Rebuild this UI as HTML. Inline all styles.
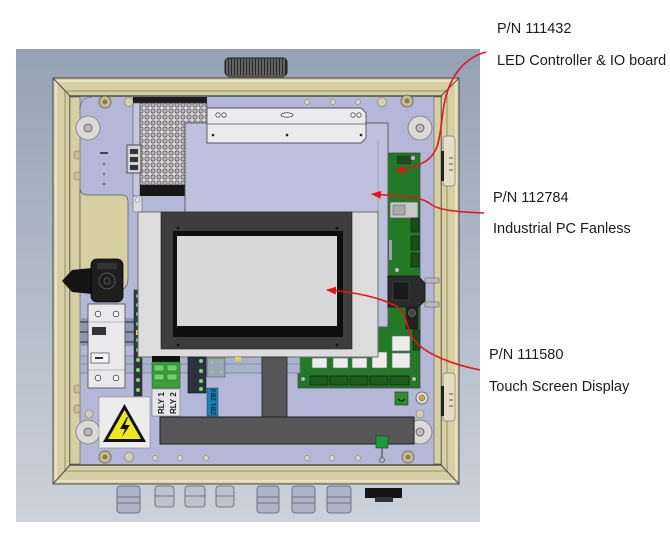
<!DOCTYPE html>
<html><head><meta charset="utf-8"><style>
html,body{margin:0;padding:0;background:#fff;}
svg{display:block;}
text{font-family:"Liberation Sans",sans-serif;fill:#1c1c1c;}
</style></head><body>
<svg width="670" height="537" viewBox="0 0 670 537" xmlns="http://www.w3.org/2000/svg">
<defs>
 <linearGradient id="bg" x1="0" y1="0" x2="0" y2="1">
  <stop offset="0" stop-color="#95a2b5"/><stop offset="1" stop-color="#ccd2db"/>
 </linearGradient>
 <pattern id="perf" width="6" height="6" patternUnits="userSpaceOnUse">
  <rect width="6" height="6" fill="#d8cfcd"/>
  <circle cx="3" cy="3" r="2.1" fill="#b9b9cd" stroke="#3a3a3a" stroke-width="0.6"/>
 </pattern>
 <pattern id="knob" width="3" height="18" patternUnits="userSpaceOnUse">
  <rect width="3" height="18" fill="#2a2a2a"/><rect x="1.5" width="1" height="18" fill="#9a9a9a"/>
 </pattern>
 <marker id="ah" viewBox="0 0 10 8" refX="9" refY="4" markerWidth="10" markerHeight="8" markerUnits="userSpaceOnUse" orient="auto">
  <path d="M0,0 L10,4 L0,8 z" fill="#e5141b"/>
 </marker>
</defs>

<!-- background photo area -->
<rect x="16" y="49" width="464" height="473" fill="url(#bg)"/>

<!-- knob -->
<rect x="225" y="58" width="62" height="18" rx="4" fill="url(#knob)" stroke="#222" stroke-width="1"/>
<rect x="228" y="75" width="56" height="4" fill="#555"/>

<!-- glands -->
<g stroke="#5a5e6c" stroke-width="0.8">
 <rect x="117" y="486" width="23" height="27" rx="3" fill="#aeb3c6"/>
 <rect x="155" y="486" width="19" height="21" rx="3" fill="#bfc2ce"/>
 <rect x="185" y="486" width="20" height="21" rx="3" fill="#bfc2ce"/>
 <rect x="216" y="486" width="18" height="21" rx="3" fill="#bfc2ce"/>
 <rect x="257" y="486" width="22" height="27" rx="3" fill="#aeb3c6"/>
 <rect x="292" y="486" width="23" height="27" rx="3" fill="#aeb3c6"/>
 <rect x="327" y="486" width="24" height="27" rx="3" fill="#aeb3c6"/>
 <line x1="117" y1="497" x2="140" y2="497"/><line x1="117" y1="503" x2="140" y2="503"/>
 <line x1="155" y1="496" x2="174" y2="496"/><line x1="185" y1="496" x2="205" y2="496"/><line x1="216" y1="496" x2="234" y2="496"/>
 <line x1="257" y1="497" x2="279" y2="497"/><line x1="257" y1="503" x2="279" y2="503"/>
 <line x1="292" y1="497" x2="315" y2="497"/><line x1="292" y1="503" x2="315" y2="503"/>
 <line x1="327" y1="497" x2="351" y2="497"/><line x1="327" y1="503" x2="351" y2="503"/>
</g>
<rect x="365" y="488" width="37" height="10" fill="#151515"/>
<rect x="375" y="497" width="18" height="5" fill="#333"/>

<!-- frame -->
<rect x="53" y="78" width="406" height="406" fill="#d8cea4" stroke="#4a4a4a" stroke-width="1"/>
<rect x="56" y="81" width="400" height="400" fill="none" stroke="#efe8ca" stroke-width="1.5"/>
<rect x="65" y="91" width="382" height="380" fill="none" stroke="#b9af86" stroke-width="2"/>
<g stroke="#4a4a4a" stroke-width="1">
 <line x1="53" y1="78" x2="70" y2="96"/><line x1="459" y1="78" x2="441" y2="96"/>
 <line x1="53" y1="484" x2="70" y2="465"/><line x1="459" y1="484" x2="441" y2="465"/>
</g>
<!-- inner panel -->
<rect x="70" y="96" width="371" height="369" fill="#b4b7d7" stroke="#333" stroke-width="1.2"/>
<rect x="70" y="97" width="10" height="367" fill="#d8cea4" stroke="#555" stroke-width="0.6"/>
<rect x="434" y="97" width="7" height="367" fill="#d8cea4" stroke="#555" stroke-width="0.6"/>
<!-- lower-left tan region -->
<path d="M80,188 Q80,195 88,195 L122,195 Q128,195 128,202 L128,278 Q128,290 118,290 L80,290 Z" fill="#d8cea4" stroke="#555" stroke-width="0.7"/>
<path d="M80,110 Q80,97 92,97" fill="none" stroke="#555" stroke-width="0.6"/>
<!-- left frame bumps -->
<g fill="#cbbf91" stroke="#777" stroke-width="0.6">
 <rect x="74" y="151" width="6" height="8" rx="2"/><rect x="74" y="172" width="6" height="8" rx="2"/>
 <rect x="74" y="385" width="6" height="8" rx="2"/><rect x="74" y="405" width="6" height="8" rx="2"/>
</g>
<!-- small dots on left plate -->
<rect x="100" y="152" width="8" height="2" fill="#444"/>
<circle cx="104" cy="164" r="0.9" fill="#333"/><circle cx="104" cy="174" r="0.9" fill="#333"/><circle cx="104" cy="184" r="0.9" fill="#333"/>

<!-- hinges right -->
<g fill="#e6dec3" stroke="#777" stroke-width="0.7">
 <rect x="443" y="136" width="12" height="50" rx="3"/>
 <rect x="443" y="373" width="12" height="48" rx="3"/>
</g>
<rect x="441" y="151" width="3" height="30" fill="#222"/>
<rect x="441" y="386" width="3" height="30" fill="#222"/>
<g stroke="#555" stroke-width="1">
 <line x1="449" y1="158" x2="453" y2="158"/><line x1="449" y1="164" x2="453" y2="164"/><line x1="449" y1="170" x2="453" y2="170"/>
 <line x1="449" y1="394" x2="453" y2="394"/><line x1="449" y1="400" x2="453" y2="400"/><line x1="449" y1="406" x2="453" y2="406"/>
</g>

<!-- rollers / screws -->
<g>
 <circle cx="88" cy="128" r="12" fill="#dcdad6" stroke="#777" stroke-width="0.8"/><circle cx="88" cy="128" r="4" fill="#bbb" stroke="#555" stroke-width="0.8"/>
 <circle cx="420" cy="128" r="12" fill="#dcdad6" stroke="#777" stroke-width="0.8"/><circle cx="420" cy="128" r="4" fill="#bbb" stroke="#555" stroke-width="0.8"/>
 <circle cx="88" cy="432" r="12" fill="#dcdad6" stroke="#777" stroke-width="0.8"/><circle cx="88" cy="432" r="4" fill="#bbb" stroke="#555" stroke-width="0.8"/>
 <circle cx="420" cy="432" r="12" fill="#dcdad6" stroke="#777" stroke-width="0.8"/><circle cx="420" cy="432" r="4" fill="#bbb" stroke="#555" stroke-width="0.8"/>
 <circle cx="89" cy="414" r="4" fill="#d8cfa8" stroke="#777" stroke-width="0.6"/>
 <circle cx="420" cy="414" r="4" fill="#d8cfa8" stroke="#777" stroke-width="0.6"/>
 <circle cx="105" cy="102" r="6" fill="#c8bc8c" stroke="#555" stroke-width="0.8"/><circle cx="105" cy="102" r="2.5" fill="#8a7d50"/>
 <circle cx="407" cy="101" r="6" fill="#c8bc8c" stroke="#555" stroke-width="0.8"/><circle cx="407" cy="101" r="2.5" fill="#8a7d50"/>
 <circle cx="105" cy="457" r="6" fill="#c8bc8c" stroke="#555" stroke-width="0.8"/><circle cx="105" cy="457" r="2.5" fill="#8a7d50"/>
 <circle cx="408" cy="457" r="6" fill="#c8bc8c" stroke="#555" stroke-width="0.8"/><circle cx="408" cy="457" r="2.5" fill="#8a7d50"/>
 <circle cx="129" cy="102" r="4.5" fill="#d8cfa8" stroke="#777" stroke-width="0.6"/>
 <circle cx="382" cy="102" r="4.5" fill="#d8cfa8" stroke="#777" stroke-width="0.6"/>
 <circle cx="129" cy="457" r="4.5" fill="#d8cfa8" stroke="#777" stroke-width="0.6"/>
 <g fill="#e0d8b4" stroke="#777" stroke-width="0.5">
  <circle cx="307" cy="102" r="2.5"/><circle cx="333" cy="102" r="2.5"/><circle cx="358" cy="102" r="2.5"/>
  <circle cx="155" cy="458" r="2.5"/><circle cx="180" cy="458" r="2.5"/><circle cx="206" cy="458" r="2.5"/>
  <circle cx="307" cy="458" r="2.5"/><circle cx="332" cy="458" r="2.5"/><circle cx="358" cy="458" r="2.5"/>
 </g>
</g>

<!-- power supply -->
<rect x="133" y="97" width="74" height="6" fill="#1c1c1c"/>
<rect x="133" y="103" width="7" height="93" fill="#c4c6dc" stroke="#555" stroke-width="0.6"/>
<rect x="140" y="103" width="67" height="82" fill="url(#perf)" stroke="#444" stroke-width="0.6"/>
<rect x="140" y="185" width="48" height="11" fill="#161616"/>
<rect x="127" y="145" width="14" height="28" fill="#cfcfd6" stroke="#333" stroke-width="0.8"/>
<g fill="#333"><rect x="130" y="149" width="8" height="5"/><rect x="130" y="157" width="8" height="5"/><rect x="130" y="165" width="8" height="5"/></g>
<rect x="133" y="196" width="9" height="16" rx="2" fill="#dcdce0" stroke="#666" stroke-width="0.6"/>
<circle cx="137.5" cy="200" r="2.2" fill="#eee" stroke="#666" stroke-width="0.5"/>

<!-- PCB right / lower (under PC & screen) -->
<rect x="388" y="153" width="32" height="180" fill="#237a26" stroke="#333" stroke-width="0.6"/>
<rect x="298" y="300" width="122" height="88" fill="#237a26" stroke="#333" stroke-width="0.6"/>

<!-- Industrial PC -->
<rect x="185" y="123" width="203" height="204" fill="#bec1dd" stroke="#555" stroke-width="0.9"/>
<line x1="378" y1="140" x2="378" y2="327" stroke="#888" stroke-width="0.6"/>

<!-- bracket plate -->
<path d="M207,108 L361,108 L366,113 L366,138 L361,143 L207,143 Z" fill="#ebebee" stroke="#555" stroke-width="0.9"/>
<line x1="207" y1="124" x2="366" y2="124" stroke="#555" stroke-width="0.7"/>
<g fill="#fff" stroke="#444" stroke-width="0.8">
 <circle cx="218" cy="115" r="2.2"/><circle cx="224" cy="115" r="2.2"/>
 <ellipse cx="287" cy="115" rx="6" ry="2.2"/>
 <circle cx="353" cy="115" r="2.2"/><circle cx="359" cy="115" r="2.2"/>
</g>
<circle cx="287" cy="135" r="1.3" fill="#222"/><circle cx="361" cy="135" r="1.3" fill="#222"/><circle cx="213" cy="135" r="1.3" fill="#222"/>

<!-- PCB details -->
<rect x="397" y="156" width="14" height="8" fill="#1a4d1a" stroke="#333" stroke-width="0.5"/>
<circle cx="413" cy="158" r="2.5" fill="#bbb" stroke="#333" stroke-width="0.5"/>
<rect x="390" y="202" width="28" height="16" rx="1" fill="#c9c9cc" stroke="#555" stroke-width="0.7"/>
<rect x="393" y="205" width="12" height="10" fill="#aaa" stroke="#555" stroke-width="0.5"/>
<g fill="#1a4d1a" stroke="#111" stroke-width="0.5">
 <rect x="411" y="218" width="8" height="14"/><rect x="411" y="236" width="8" height="14"/><rect x="411" y="253" width="8" height="14"/>
</g>
<circle cx="397" cy="270" r="2.5" fill="#bbb" stroke="#333" stroke-width="0.5"/>
<rect x="389" y="240" width="3" height="20" fill="#9ea1b3"/>
<!-- D-sub -->
<path d="M388,276 L418,276 L425,283 L425,301 L418,307 L388,307 Z" fill="#2b2b2b" stroke="#111" stroke-width="0.8"/>
<rect x="393" y="282" width="16" height="18" fill="#1a1a1a" stroke="#555" stroke-width="0.5"/>
<rect x="425" y="278" width="14" height="5" fill="#b9b9bd" stroke="#555" stroke-width="0.5"/>
<rect x="425" y="302" width="14" height="5" fill="#b9b9bd" stroke="#555" stroke-width="0.5"/>
<rect x="406" y="307" width="12" height="22" fill="#222" stroke="#111" stroke-width="0.5"/>
<circle cx="412" cy="313" r="3.5" fill="#444" stroke="#999" stroke-width="0.5"/>
<!-- lower PCB components -->
<g fill="#ececec" stroke="#666" stroke-width="0.6">
 <rect x="392" y="336" width="18" height="15"/><rect x="392" y="353" width="18" height="15"/>
 <rect x="312" y="358" width="15" height="10"/><rect x="333" y="358" width="15" height="10"/>
 <rect x="352" y="358" width="15" height="10"/><rect x="372" y="352" width="15" height="16"/>
</g>
<rect x="413" y="330" width="7" height="20" fill="#1a4d1a" stroke="#111" stroke-width="0.5"/>
<g fill="#1d5c1d" stroke="#111" stroke-width="0.6">
 <rect x="310" y="376" width="18" height="9"/><rect x="330" y="376" width="18" height="9"/>
 <rect x="350" y="376" width="18" height="9"/><rect x="370" y="376" width="18" height="9"/><rect x="390" y="376" width="19" height="9"/>
</g>
<circle cx="303" cy="379" r="2.3" fill="#bbb" stroke="#333" stroke-width="0.5"/>
<circle cx="414" cy="379" r="2.3" fill="#bbb" stroke="#333" stroke-width="0.5"/>

<!-- DIN rail / terminals left -->
<rect x="80" y="318" width="55" height="28" fill="#8e9ab4"/>
<g stroke="#222" stroke-width="1"><line x1="80" y1="322" x2="135" y2="322"/><line x1="80" y1="332" x2="135" y2="332"/><line x1="80" y1="342" x2="135" y2="342"/></g>
<rect x="80" y="356" width="220" height="17" fill="#a8b2cb" stroke="#6a7390" stroke-width="0.6"/>
<line x1="80" y1="364" x2="300" y2="364" stroke="#7b86a3" stroke-width="0.8"/>
<rect x="134" y="290" width="8" height="106" fill="#2f3440" stroke="#222" stroke-width="0.5"/>
<g fill="#6fe06a">
 <circle cx="138" cy="296" r="2"/><circle cx="138" cy="305" r="2"/><circle cx="138" cy="314" r="2"/><circle cx="138" cy="324" r="2"/>
 <circle cx="138" cy="340" r="2"/><circle cx="138" cy="350" r="2"/><circle cx="138" cy="360" r="2"/><circle cx="138" cy="370" r="2"/>
 <circle cx="138" cy="380" r="2"/><circle cx="138" cy="390" r="2"/>
</g>
<rect x="136" y="330" width="4" height="5" fill="#e8d24a"/>

<!-- breaker -->
<rect x="88" y="304" width="37" height="84" fill="#e9e9ec" stroke="#555" stroke-width="0.9"/>
<line x1="88" y1="322" x2="125" y2="322" stroke="#888" stroke-width="0.6"/>
<line x1="88" y1="370" x2="125" y2="370" stroke="#888" stroke-width="0.6"/>
<rect x="92" y="327" width="14" height="8" fill="#333"/>
<rect x="91" y="353" width="18" height="10" fill="#f6f6f6" stroke="#555" stroke-width="0.8"/>
<rect x="95" y="357" width="8" height="2" fill="#333"/>
<g fill="#fff" stroke="#444" stroke-width="0.8">
 <circle cx="98" cy="314" r="2.8"/><circle cx="116" cy="314" r="2.8"/><circle cx="98" cy="378" r="2.8"/><circle cx="116" cy="378" r="2.8"/>
</g>

<!-- black connector left -->
<path d="M62,281 L72,270 L92,268 L92,294 L72,292 Z" fill="#151515"/>
<rect x="91" y="259" width="32" height="43" rx="6" fill="#1e1e1e" stroke="#000" stroke-width="0.8"/>
<circle cx="107" cy="281" r="8" fill="none" stroke="#555" stroke-width="1"/>
<circle cx="107" cy="281" r="3" fill="none" stroke="#555" stroke-width="1"/>
<rect x="97" y="263" width="20" height="6" fill="#333"/>

<!-- touch screen -->
<rect x="138" y="212" width="240" height="145" fill="#dcdcdc" stroke="#707070" stroke-width="1"/>
<rect x="161" y="212" width="191" height="137" fill="#3d3d3d" stroke="#222" stroke-width="0.6"/>
<rect x="173" y="231" width="170" height="106" fill="#0f0f0f"/>
<rect x="177" y="236" width="160" height="90" fill="#d8d8d8"/>
<g fill="#111"><circle cx="178" cy="228" r="1.4"/><circle cx="337" cy="228" r="1.4"/><circle cx="178" cy="345" r="1.4"/><circle cx="337" cy="345" r="1.4"/></g>

<!-- terminal blocks under screen -->
<rect x="152" y="356" width="28" height="6" fill="#111"/>
<rect x="152" y="362" width="28" height="26" fill="#3e9e3e" stroke="#1f5f1f" stroke-width="0.6"/>
<g fill="#6fd06f" stroke="#1f5f1f" stroke-width="0.5">
 <rect x="154" y="365" width="10" height="6"/><rect x="167" y="365" width="10" height="6"/>
 <rect x="154" y="374" width="10" height="6"/><rect x="167" y="374" width="10" height="6"/>
</g>
<rect x="188" y="357" width="18" height="36" fill="#2d3140" stroke="#111" stroke-width="0.6"/>
<g fill="#6fe06a"><circle cx="201" cy="361" r="2"/><circle cx="201" cy="371" r="2"/><circle cx="201" cy="381" r="2"/><circle cx="201" cy="389" r="2"/></g>
<rect x="207" y="358" width="18" height="19" fill="#9ca4bb" stroke="#555" stroke-width="0.6"/>
<g fill="#6fe06a"><circle cx="212" cy="362" r="1.6"/><circle cx="221" cy="362" r="1.6"/><circle cx="212" cy="372" r="1.6"/><circle cx="221" cy="372" r="1.6"/></g>
<rect x="235" y="357" width="6" height="4" fill="#e8d24a"/>
<rect x="207" y="388" width="11" height="28" fill="#1f7fb5" stroke="#0d4d70" stroke-width="0.5"/>
<text x="0" y="0" transform="translate(215.5,415) rotate(-90)" font-size="6.5" font-weight="bold" style="fill:#0a2a3a">ZB1 ZB2</text>

<!-- RLY label -->
<rect x="152" y="389" width="28" height="27" fill="#e6e6e8" stroke="#777" stroke-width="0.6"/>
<text transform="translate(164,414) rotate(-90)" font-size="8" font-weight="bold" style="fill:#222">RLY 1</text>
<text transform="translate(176,414) rotate(-90)" font-size="8" font-weight="bold" style="fill:#222">RLY 2</text>

<!-- warning label -->
<rect x="99" y="397" width="51" height="51" fill="#ececec" stroke="#888" stroke-width="0.6"/>
<path d="M124.5,404 L146,442 L103,442 Z" fill="#111"/>
<path d="M124.5,410 L141,439 L108,439 Z" fill="#f0e81a"/>
<path d="M127,417 L120,429 L125,429 L122,437 L130,425 L125,425 L128,417 Z" fill="#111"/>

<!-- dark strips -->
<rect x="262" y="357" width="25" height="61" fill="#565656" stroke="#222" stroke-width="0.8"/>
<rect x="160" y="417" width="254" height="27" fill="#575757" stroke="#1e1e1e" stroke-width="1"/>

<!-- small parts right bottom -->
<rect x="395" y="392" width="13" height="13" fill="#2e8b2e" stroke="#114411" stroke-width="0.6"/>
<path d="M398,399 Q401.5,403 405,399" fill="none" stroke="#111" stroke-width="1"/>
<circle cx="422" cy="398" r="6" fill="#ddd" stroke="#555" stroke-width="0.8"/>
<circle cx="422" cy="398" r="3" fill="#c8a84a" stroke="#555" stroke-width="0.5"/>
<rect x="376" y="436" width="12" height="12" fill="#1f9a3a" stroke="#0c4a1c" stroke-width="0.6"/>
<line x1="382" y1="448" x2="382" y2="458" stroke="#333" stroke-width="1"/>
<circle cx="382" cy="460" r="2.5" fill="none" stroke="#555" stroke-width="0.8"/>

<!-- red arrows -->
<g fill="none" stroke="#e5141b" stroke-width="1.6">
 <path d="M486,52 C463,58 449,78 444,105 C439,135 441,151 426,161 C416,167 408,169 396,171" marker-end="url(#ah)"/>
 <path d="M484,213 C462,212 441,211 432,205 C424,199 417,197 398,196 C390,195 382,195 372,194" marker-end="url(#ah)"/>
 <path d="M480,370 C455,365 426,355 414,340 C404,326 409,314 396,306 C381,298 356,292 327,290" marker-end="url(#ah)"/>
</g>

<!-- labels -->
<g font-size="14.5">
 <text x="497" y="33">P/N 111432</text>
 <text x="497" y="65">LED Controller &amp; IO board</text>
 <text x="493" y="202">P/N 112784</text>
 <text x="493" y="233">Industrial PC Fanless</text>
 <text x="489" y="359">P/N 111580</text>
 <text x="489" y="391">Touch Screen Display</text>
</g>
</svg>
</body></html>
